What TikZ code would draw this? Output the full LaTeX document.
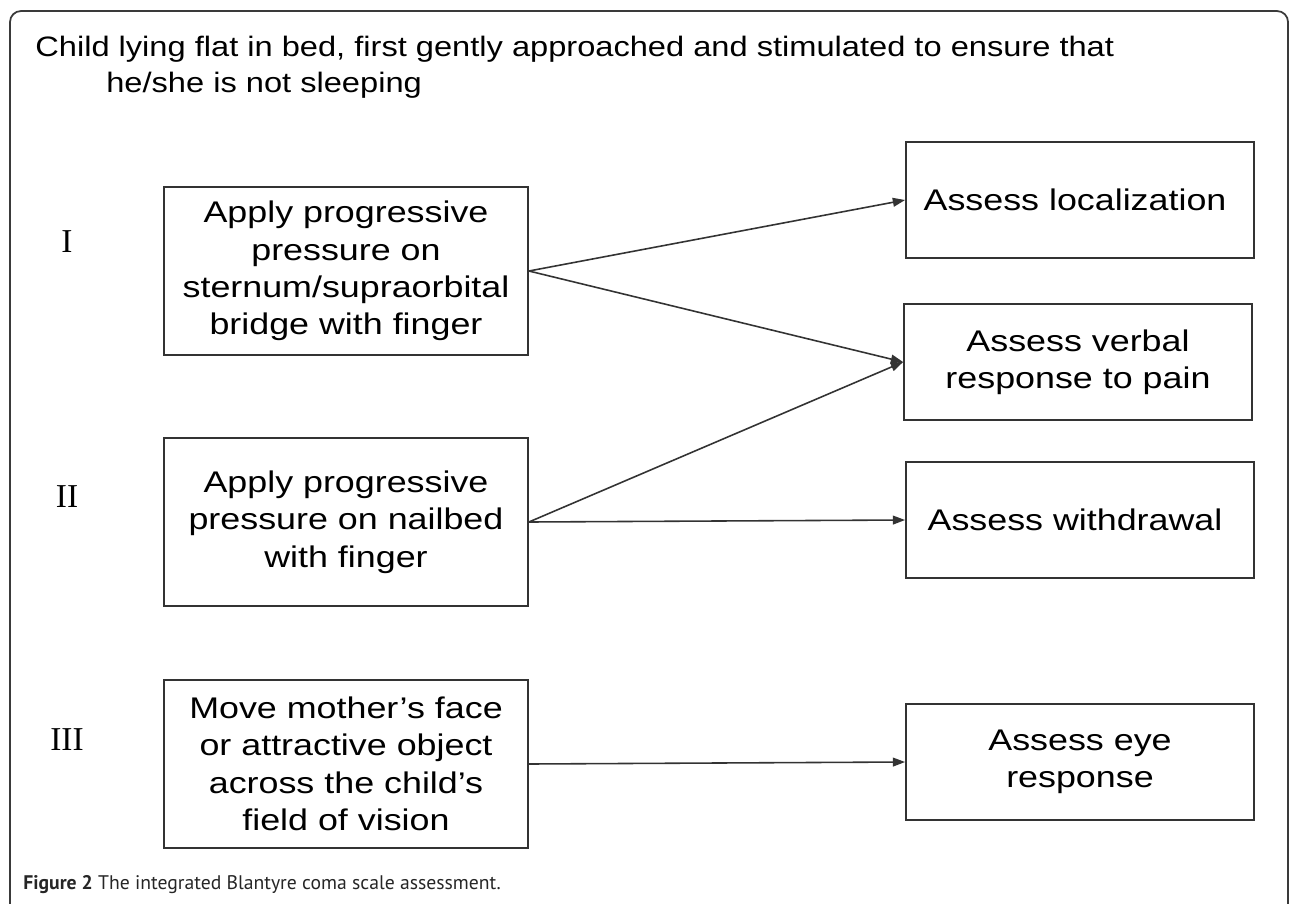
\documentclass[tikz,border=0pt]{standalone}
\usepackage{fontspec}
\setmainfont{Liberation Sans}
\newfontfamily\boxfont[FakeStretch=1.2]{Liberation Sans}
\newfontfamily\titlefont[FakeStretch=1.16]{Liberation Sans}
\newfontfamily\numfont{Liberation Serif}
\newfontfamily\capfont{PT Sans}
\usepackage{tikz}
\usetikzlibrary{arrows.meta}
\usetikzlibrary{positioning}
\definecolor{framegray}{HTML}{3A3A3A}
\definecolor{boxgray}{HTML}{333333}
\tikzstyle{stimbox} = [rectangle, draw=boxgray, line width=1pt, minimum width=7.28cm, minimum height=3.36cm, text centered, align=center, font=\boxfont\fontsize{17}{21.3}\selectfont, inner sep=0pt]
\tikzstyle{assessbox} = [rectangle, draw=boxgray, line width=1pt, minimum width=6.96cm, minimum height=2.32cm, text centered, align=center, font=\boxfont\fontsize{17}{21.3}\selectfont, inner sep=0pt]
\tikzstyle{level} = [font=\numfont\fontsize{19}{21}\selectfont]
\tikzstyle{arrow} = [line width=0.9pt, draw=boxgray, -{Triangle[length=7pt,width=5pt]}]

\begin{document}
\begin{tikzpicture}
    \useasboundingbox (0,0) rectangle (25.8,-18.06);

    % outer frame, runs off the bottom
    \draw[framegray, line width=1pt, rounded corners=0.22cm] (0.2,-0.22) rectangle (25.76,-19);

    \node[anchor=base west,
        align=left,
        inner sep=0pt,
        font=\titlefont\fontsize{16}{20}\selectfont]
    (title) at (0.7,-1.84) {
        Child lying flat in bed, first gently approached and stimulated to ensure that\\
        \hspace*{1.42cm}he/she is not sleeping
    };

    \node[level] (lvlone) at (1.34,-4.84) {I};
    \node[level] (lvltwo) at (1.34,-9.94) {II};
    \node[level] (lvlthree) at (1.34,-14.8) {III};

    \node[stimbox] (sternum) at (6.92,-5.42) {
        Apply progressive\\
        pressure on\\
        sternum/supraorbital\\
        bridge with finger
    };

    \node[stimbox] (nailbed) at (6.92,-10.44) {
        Apply progressive\\
        pressure on nailbed\\
        with finger
    };

    \node[stimbox] (face) at (6.92,-15.28) {
        Move mother’s face\\
        or attractive object\\
        across the child’s\\
        field of vision
    };

    \node[assessbox] (local) at (21.6,-4.0) {
        Assess localization
    };

    \node[assessbox] (verbal) at (21.56,-7.24) {
        Assess verbal\\
        response to pain
    };

    \node[assessbox] (withdraw) at (21.6,-10.4) {
        Assess withdrawal
    };

    \node[assessbox] (eye) at (21.6,-15.24) {
        Assess eye\\
        response
    };

    \draw [arrow] (sternum.east) -- (local.west);
    \draw [arrow] (sternum.east) -- (verbal.west);
    \draw [arrow] (nailbed.east) -- (verbal.west);
    \draw [arrow] (nailbed.east) -- (withdraw.west);
    \draw [arrow] (face.east) -- (eye.west);

    \node[anchor=base west,
        inner sep=0pt,
        text=black!85,
        font=\capfont\fontsize{11.2}{12}\selectfont]
    (caption) at (0.46,-17.78) {\textbf{Figure 2} The integrated Blantyre coma scale assessment.};

\end{tikzpicture}
\end{document}
